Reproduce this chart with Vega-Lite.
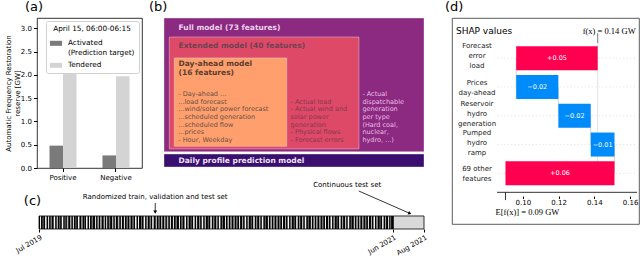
{
"$schema": "https://vega.github.io/schema/vega-lite/v6.json",
"padding": {"left": 4, "top": 0, "right": 0, "bottom": 0},
"background": "white",
"config": {
  "view": {"stroke": null},
  "font": "DejaVu Sans",
  "axis": {"labelFont": "DejaVu Sans", "titleFont": "DejaVu Sans", "labelColor": "#000", "tickColor": "#000", "titleColor": "#000", "labelFontSize": 7, "titleFontSize": 7, "titleFontWeight": "normal", "grid": false},
  "title": {"font": "DejaVu Sans", "fontSize": 13, "fontWeight": "normal", "anchor": "start", "frame": "group", "color": "#000"},
  "text": {"font": "DejaVu Sans"}
},
"datasets": {
  "afrr": [
    {"direction": "Positive", "reserve": "Activated", "gw": 0.48},
    {"direction": "Positive", "reserve": "Tendered", "gw": 2.12},
    {"direction": "Negative", "reserve": "Activated", "gw": 0.27},
    {"direction": "Negative", "reserve": "Tendered", "gw": 1.97}
  ],
  "boxes": [
    {"box": "Full", "x1": 0, "x2": 100, "y1": 0, "y2": 89.7},
    {"box": "Extended", "x1": 2.04, "x2": 75, "y1": 12.75, "y2": 87.9},
    {"box": "Day-ahead", "x1": 3.96, "x2": 47.2, "y1": 26.8, "y2": 86.1},
    {"box": "Daily profile", "x1": 0, "x2": 100, "y1": 91.3, "y2": 100}
  ],
  "boxTitles": [
    {"box": "Full", "text": "Full model (73 features)", "x": 5.6, "y": 6.9},
    {"box": "Extended", "text": "Extended model (40 features)", "x": 5.6, "y": 19.0},
    {"box": "Day-ahead", "text": "Day-ahead model\n(16 features)", "x": 5.6, "y": 30.9},
    {"box": "Daily profile", "text": "Daily profile prediction model", "x": 5.6, "y": 96.2}
  ],
  "boxLists": [
    {"box": "Day-ahead", "text": "- Day-ahead ...\n...load forecast\n...wind/solar power forecast\n...scheduled generation\n...scheduled flow\n...prices\n- Hour, Weekday", "x": 5.5, "y": 51.0},
    {"box": "Extended", "text": "- Actual load\n- Actual wind and\nsolar power\ngeneration\n- Physical flows\n- Forecast errors", "x": 48.7, "y": 56.2},
    {"box": "Full", "text": "- Actual\ndispatchable\ngeneration\nper type\n(Hard coal,\nnuclear,\nhydro, ...)", "x": 76.3, "y": 51.0}
  ],
  "segments": [
    {"part": "randomized", "start": 0, "end": 701},
    {"part": "continuous", "start": 701, "end": 762}
  ],
  "stripes": [
    {"s":2,"e":4,"t":"w"},{"s":7,"e":9,"t":"m"},{"s":12,"e":15,"t":"w"},{"s":18,"e":20,"t":"w"},{"s":23,"e":25,"t":"l"},{"s":29,"e":32,"t":"w"},{"s":35,"e":37,"t":"w"},{"s":40,"e":42,"t":"m"},{"s":45,"e":48,"t":"w"},{"s":51,"e":52,"t":"w"},{"s":55,"e":58,"t":"l"},{"s":62,"e":64,"t":"w"},{"s":67,"e":69,"t":"w"},{"s":72,"e":74,"t":"m"},{"s":77,"e":80,"t":"w"},{"s":84,"e":86,"t":"w"},{"s":89,"e":90,"t":"l"},{"s":93,"e":96,"t":"w"},{"s":99,"e":101,"t":"w"},{"s":104,"e":107,"t":"m"},{"s":111,"e":113,"t":"w"},{"s":116,"e":118,"t":"w"},{"s":121,"e":124,"t":"l"},{"s":128,"e":130,"t":"w"},{"s":133,"e":135,"t":"w"},{"s":138,"e":141,"t":"m"},{"s":145,"e":147,"t":"w"},{"s":150,"e":152,"t":"w"},{"s":156,"e":159,"t":"l"},{"s":162,"e":164,"t":"w"},{"s":168,"e":170,"t":"w"},{"s":173,"e":176,"t":"m"},{"s":179,"e":181,"t":"w"},{"s":185,"e":187,"t":"l"},{"s":190,"e":193,"t":"w"},{"s":196,"e":198,"t":"w"},{"s":202,"e":204,"t":"m"},{"s":207,"e":210,"t":"w"},{"s":213,"e":215,"t":"w"},{"s":219,"e":221,"t":"l"},{"s":224,"e":227,"t":"w"},{"s":231,"e":233,"t":"w"},{"s":236,"e":239,"t":"m"},{"s":242,"e":244,"t":"w"},{"s":248,"e":250,"t":"w"},{"s":253,"e":256,"t":"l"},{"s":259,"e":261,"t":"w"},{"s":265,"e":267,"t":"w"},{"s":270,"e":273,"t":"m"},{"s":277,"e":279,"t":"w"},{"s":282,"e":284,"t":"l"},{"s":288,"e":291,"t":"w"},{"s":294,"e":296,"t":"w"},{"s":300,"e":302,"t":"m"},{"s":305,"e":308,"t":"w"},{"s":311,"e":313,"t":"w"},{"s":317,"e":319,"t":"l"},{"s":322,"e":325,"t":"w"},{"s":328,"e":330,"t":"w"},{"s":334,"e":336,"t":"m"},{"s":339,"e":342,"t":"w"},{"s":345,"e":347,"t":"l"},{"s":351,"e":353,"t":"w"},{"s":356,"e":359,"t":"w"},{"s":362,"e":364,"t":"m"},{"s":368,"e":370,"t":"w"},{"s":373,"e":376,"t":"l"},{"s":379,"e":381,"t":"w"},{"s":385,"e":387,"t":"w"},{"s":390,"e":393,"t":"m"},{"s":396,"e":398,"t":"w"},{"s":402,"e":404,"t":"l"},{"s":407,"e":410,"t":"w"},{"s":413,"e":415,"t":"w"},{"s":419,"e":421,"t":"m"},{"s":424,"e":427,"t":"w"},{"s":430,"e":432,"t":"l"},{"s":436,"e":438,"t":"w"},{"s":441,"e":444,"t":"w"},{"s":447,"e":449,"t":"m"},{"s":453,"e":455,"t":"w"},{"s":458,"e":461,"t":"l"},{"s":464,"e":466,"t":"w"},{"s":470,"e":472,"t":"w"},{"s":475,"e":478,"t":"m"},{"s":481,"e":483,"t":"w"},{"s":487,"e":489,"t":"l"},{"s":492,"e":495,"t":"w"},{"s":498,"e":500,"t":"w"},{"s":504,"e":506,"t":"m"},{"s":509,"e":512,"t":"w"},{"s":515,"e":517,"t":"l"},{"s":521,"e":523,"t":"w"},{"s":526,"e":529,"t":"w"},{"s":532,"e":534,"t":"m"},{"s":538,"e":540,"t":"w"},{"s":543,"e":546,"t":"l"},{"s":549,"e":551,"t":"w"},{"s":555,"e":557,"t":"w"},{"s":560,"e":563,"t":"m"},{"s":566,"e":568,"t":"w"},{"s":572,"e":574,"t":"l"},{"s":577,"e":580,"t":"w"},{"s":583,"e":585,"t":"w"},{"s":589,"e":591,"t":"m"},{"s":594,"e":597,"t":"w"},{"s":600,"e":602,"t":"l"},{"s":606,"e":608,"t":"w"},{"s":611,"e":614,"t":"w"},{"s":617,"e":619,"t":"m"},{"s":623,"e":625,"t":"w"},{"s":628,"e":631,"t":"l"},{"s":634,"e":636,"t":"w"},{"s":640,"e":642,"t":"w"},{"s":645,"e":648,"t":"m"},{"s":651,"e":653,"t":"w"},{"s":657,"e":659,"t":"l"},{"s":662,"e":665,"t":"w"},{"s":668,"e":670,"t":"w"},{"s":674,"e":676,"t":"m"},{"s":679,"e":682,"t":"w"},{"s":685,"e":687,"t":"l"},{"s":691,"e":693,"t":"w"},{"s":695,"e":697,"t":"m"}
  ],
  "callouts": [
    {"name": "panel", "text": "(c)", "day": -13, "level": 2.15},
    {"name": "randomized", "text": "Randomized train, validation and test set", "day": 230, "level": 2.46},
    {"name": "continuous", "text": "Continuous test set", "day": 610, "level": 3.38}
  ],
  "arrows": [
    {"name": "randomized", "day1": 230, "lev1": 2.0, "day2": 230, "lev2": 1.3},
    {"name": "continuous", "day1": 633, "lev1": 2.92, "day2": 734, "lev2": 1.2}
  ],
  "shap": [
    {"feature": "Forecast error load", "label": "Forecast\nerror\nload", "lines": 3, "row": 1, "start": 0.0963, "end": 0.1419, "text": "+0.05", "sign": "positive"},
    {"feature": "Prices day-ahead", "label": "Prices\nday-ahead", "lines": 2, "row": 2, "start": 0.1199, "end": 0.0963, "text": "\u22120.02", "sign": "negative"},
    {"feature": "Reservoir hydro generation", "label": "Reservoir\nhydro\ngeneration", "lines": 3, "row": 3, "start": 0.1380, "end": 0.1199, "text": "\u22120.02", "sign": "negative"},
    {"feature": "Pumped hydro ramp", "label": "Pumped\nhydro\nramp", "lines": 3, "row": 4, "start": 0.1513, "end": 0.1380, "text": "\u22120.01", "sign": "negative"},
    {"feature": "69 other features", "label": "69 other\nfeatures", "lines": 2, "row": 5, "start": 0.0903, "end": 0.1513, "text": "+0.06", "sign": "positive"}
  ],
  "connectors": [
    {"x": 0.0963, "r1": 1, "r2": 2},
    {"x": 0.1199, "r1": 2, "r2": 3},
    {"x": 0.1380, "r1": 3, "r2": 4},
    {"x": 0.1513, "r1": 4, "r2": 5}
  ]
},
"hconcat": [
  {
    "vconcat": [
      {
        "hconcat": [
          {
            "title": {"text": "(a)", "dx": -12, "offset": 4},
            "width": 105, "height": 150,
            "view": {"stroke": "#000", "strokeWidth": 0.8},
            "data": {"name": "afrr"},
            "mark": {"type": "bar"},
            "encoding": {
              "x": {"field": "direction", "type": "nominal", "sort": ["Positive", "Negative"],
                    "scale": {"paddingInner": 0.49, "paddingOuter": 0.236},
                    "axis": {"title": null, "labelAngle": 0, "domain": false, "tickSize": 3.5, "labelPadding": 2}},
              "xOffset": {"field": "reserve", "type": "nominal", "sort": ["Activated", "Tendered"]},
              "y": {"field": "gw", "type": "quantitative", "scale": {"domain": [0, 3.22], "nice": false},
                    "axis": {"title": ["Automatic Frequency Restoration", "reserve [GW]"], "values": [0, 0.5, 1, 1.5, 2, 2.5, 3], "format": ".1f", "domain": false, "tickSize": 3.5, "labelPadding": 2, "titlePadding": 0, "titleLineHeight": 8.5}},
              "color": {"field": "reserve", "type": "nominal",
                        "scale": {"domain": ["Activated", "Tendered"], "range": ["#7a7a7a", "#d4d4d4"]},
                        "legend": {"orient": "top-right", "offset": 3, "title": "April 15, 06:00-06:15", "titleFontSize": 7.3, "titleFontWeight": "normal", "titleAnchor": "middle", "titleFont": "DejaVu Sans", "labelFont": "DejaVu Sans", "labelFontSize": 7.3, "symbolType": "M-1,-0.42H1V0.42H-1Z", "symbolSize": 144, "symbolStrokeWidth": 0, "padding": 4, "fillColor": "#ffffff", "strokeColor": "#d0d0d0", "cornerRadius": 2, "rowPadding": 3, "labelOffset": 6, "labelExpr": "datum.label == 'Activated' ? ['Activated', '(Prediction target)'] : datum.label"}}
            }
          },
          {
            "title": {"text": "(b)", "dx": -15, "offset": 4},
            "width": 260, "height": 149,
            "layer": [
              {
                "data": {"name": "boxes"},
                "mark": {"type": "rect", "stroke": "#ffffff", "strokeOpacity": 0.35, "strokeWidth": 1},
                "encoding": {
                  "x": {"field": "x1", "type": "quantitative", "scale": {"domain": [0, 100], "nice": false, "zero": false}, "axis": null},
                  "x2": {"field": "x2"},
                  "y": {"field": "y1", "type": "quantitative", "scale": {"domain": [0, 100], "reverse": true, "nice": false, "zero": false}, "axis": null},
                  "y2": {"field": "y2"},
                  "fill": {"field": "box", "type": "nominal", "scale": {"domain": ["Full", "Extended", "Day-ahead", "Daily profile"], "range": ["#8c2981", "#de4968", "#fe9f6d", "#3b0f70"]}, "legend": null}
                }
              },
              {
                "data": {"name": "boxTitles"},
                "mark": {"type": "text", "align": "left", "baseline": "middle", "fontWeight": "bold", "fontSize": 7.5, "lineBreak": "\n", "lineHeight": 8.5},
                "encoding": {
                  "x": {"field": "x", "type": "quantitative", "axis": null},
                  "y": {"field": "y", "type": "quantitative", "axis": null},
                  "text": {"field": "text"},
                  "color": {"field": "box", "type": "nominal", "scale": {"domain": ["Full", "Extended", "Day-ahead", "Daily profile"], "range": ["#ecd3ea", "#6e4251", "#5a3d2e", "#ece4f4"]}, "legend": null}
                }
              },
              {
                "data": {"name": "boxLists"},
                "mark": {"type": "text", "align": "left", "baseline": "middle", "fontSize": 6.5, "lineBreak": "\n", "lineHeight": 7.67},
                "encoding": {
                  "x": {"field": "x", "type": "quantitative", "axis": null},
                  "y": {"field": "y", "type": "quantitative", "axis": null},
                  "text": {"field": "text"},
                  "fill": {"field": "box", "type": "nominal", "scale": {"domain": ["Full", "Extended", "Day-ahead"], "range": ["#e8bee2", "#87384f", "#6b5045"]}, "legend": null}
                }
              }
            ],
            "resolve": {"scale": {"color": "independent", "fill": "independent"}}
          }
        ],
        "spacing": 22,
        "bounds": "flush",
        "resolve": {"scale": {"color": "independent", "fill": "independent"}, "legend": {"color": "independent", "fill": "independent"}}
      },
      {
        "width": 387, "height": 48,
        "layer": [
          {
            "data": {"name": "segments"},
            "mark": {"type": "rect"},
            "encoding": {
              "x": {"field": "start", "type": "quantitative", "scale": {"domain": [-4, 762], "nice": false, "zero": false},
                    "axis": {"title": null, "values": [0, 701, 762], "labelExpr": "datum.value == 0 ? 'Jul 2019' : (datum.value == 701 ? 'Jun 2021' : 'Aug 2021')", "labelAngle": -30, "labelAlign": "right", "labelBaseline": "top", "domain": false, "tickSize": 3, "labelPadding": 1, "labelOverlap": false, "labelFlush": false, "labelBound": false}},
              "x2": {"field": "end"},
              "y": {"datum": 0, "type": "quantitative", "scale": {"domain": [0, 3.69], "nice": false, "zero": false}, "axis": null},
              "y2": {"datum": 1},
              "fill": {"field": "part", "type": "nominal", "scale": {"domain": ["randomized", "continuous"], "range": ["#000000", "#d9d9d9"]}, "legend": null}
            }
          },
          {
            "data": {"name": "stripes"},
            "mark": {"type": "rect"},
            "encoding": {
              "x": {"field": "s", "type": "quantitative"},
              "x2": {"field": "e"},
              "y": {"datum": 0, "type": "quantitative", "axis": null},
              "y2": {"datum": 1},
              "color": {"field": "t", "type": "nominal", "scale": {"domain": ["w", "l", "m"], "range": ["#f4f4f4", "#b8b8b8", "#777777"]}, "legend": null}
            }
          },
          {
            "data": {"name": "segments"},
            "mark": {"type": "rect", "filled": false, "stroke": "#000", "strokeWidth": 0.8},
            "encoding": {
              "x": {"field": "start", "type": "quantitative"},
              "x2": {"field": "end"},
              "y": {"datum": 0, "type": "quantitative", "axis": null},
              "y2": {"datum": 1}
            }
          },
          {
            "data": {"name": "callouts"},
            "transform": [{"filter": "datum.name != 'panel'"}],
            "mark": {"type": "text", "fontSize": 7, "align": "center", "baseline": "middle", "color": "#000"},
            "encoding": {
              "x": {"field": "day", "type": "quantitative"},
              "y": {"field": "level", "type": "quantitative", "axis": null},
              "text": {"field": "text"}
            }
          },
          {
            "data": {"name": "callouts"},
            "transform": [{"filter": "datum.name == 'panel'"}],
            "mark": {"type": "text", "fontSize": 13, "align": "center", "baseline": "middle", "color": "#000"},
            "encoding": {
              "x": {"field": "day", "type": "quantitative"},
              "y": {"field": "level", "type": "quantitative", "axis": null},
              "text": {"field": "text"}
            }
          },
          {
            "data": {"name": "arrows"},
            "mark": {"type": "rule", "color": "#000", "strokeWidth": 0.8},
            "encoding": {
              "x": {"field": "day1", "type": "quantitative"},
              "x2": {"field": "day2"},
              "y": {"field": "lev1", "type": "quantitative", "axis": null},
              "y2": {"field": "lev2"}
            }
          },
          {
            "data": {"name": "arrows"},
            "transform": [{"filter": "datum.name == 'randomized'"}],
            "mark": {"type": "point", "shape": "triangle-right", "angle": 90, "filled": true, "color": "#000", "size": 14, "opacity": 1},
            "encoding": {
              "x": {"field": "day2", "type": "quantitative"},
              "y": {"field": "lev2", "type": "quantitative", "axis": null}
            }
          },
          {
            "data": {"name": "arrows"},
            "transform": [{"filter": "datum.name == 'continuous'"}],
            "mark": {"type": "point", "shape": "triangle-right", "angle": 23.5, "filled": true, "color": "#000", "size": 14, "opacity": 1},
            "encoding": {
              "x": {"field": "day2", "type": "quantitative"},
              "y": {"field": "lev2", "type": "quantitative", "axis": null}
            }
          }
        ],
        "resolve": {"scale": {"color": "independent", "fill": "independent"}}
      }
    ],
    "spacing": -7,
    "resolve": {"scale": {"color": "independent", "fill": "independent"}, "legend": {"color": "independent", "fill": "independent"}}
  },
  {
    "title": {"text": "(d)", "dx": -7, "offset": 4},
    "width": 187, "height": 206,
    "view": {"stroke": "#333", "strokeWidth": 0.8},
    "layer": [
      {
        "data": {"name": "shap"},
        "mark": {"type": "rule", "color": "#e3e3e3", "strokeWidth": 0.8, "strokeDash": [1.5, 2]},
        "encoding": {
          "x": {"datum": 0.0856, "type": "quantitative", "scale": {"domain": [0.0604, 0.165], "nice": false, "zero": false},
                "axis": {"title": null, "orient": "bottom", "offset": -28, "values": [0.10, 0.12, 0.14, 0.16], "format": ".2f", "domain": false, "tickSize": 2.5, "labelPadding": -0.5, "labelFlush": false, "labelOverlap": false}},
          "x2": {"datum": 0.1639},
          "y": {"field": "row", "type": "quantitative", "scale": {"domain": [-0.223, 6.587], "reverse": true, "nice": false, "zero": false}, "axis": null}
        }
      },
      {
        "data": {"name": "connectors"},
        "mark": {"type": "rule", "color": "#cccccc", "strokeWidth": 0.8},
        "encoding": {
          "x": {"field": "x", "type": "quantitative"},
          "y": {"field": "r1", "type": "quantitative"},
          "y2": {"field": "r2"}
        }
      },
      {
        "data": {"values": [{}]},
        "mark": {"type": "rule", "color": "#d9d9d9", "strokeWidth": 0.8},
        "encoding": {
          "x": {"datum": 0.1419, "type": "quantitative"},
          "y": {"datum": 0.47, "type": "quantitative"},
          "y2": {"datum": 4.6}
        }
      },
      {
        "data": {"name": "shap"},
        "mark": {"type": "bar", "orient": "horizontal", "height": 24},
        "encoding": {
          "x": {"field": "start", "type": "quantitative"},
          "x2": {"field": "end"},
          "y": {"field": "row", "type": "quantitative"},
          "color": {"field": "sign", "type": "nominal", "scale": {"domain": ["positive", "negative"], "range": ["#ff0051", "#008bfb"]}, "legend": null}
        }
      },
      {
        "data": {"name": "shap"},
        "transform": [{"calculate": "(datum.start + datum.end) / 2", "as": "mid"}],
        "mark": {"type": "text", "color": "#ffffff", "fontSize": 6.5, "align": "center", "baseline": "middle"},
        "encoding": {
          "x": {"field": "mid", "type": "quantitative"},
          "y": {"field": "row", "type": "quantitative"},
          "text": {"field": "text"}
        }
      },
      {
        "data": {"name": "shap"},
        "transform": [{"filter": "datum.lines == 3"}],
        "mark": {"type": "text", "color": "#222", "fontSize": 7, "align": "center", "baseline": "middle", "lineBreak": "\n", "lineHeight": 10, "dy": -12},
        "encoding": {
          "x": {"datum": 0.0744, "type": "quantitative"},
          "y": {"field": "row", "type": "quantitative"},
          "text": {"field": "label"}
        }
      },
      {
        "data": {"name": "shap"},
        "transform": [{"filter": "datum.lines == 2"}],
        "mark": {"type": "text", "color": "#222", "fontSize": 7, "align": "center", "baseline": "middle", "lineBreak": "\n", "lineHeight": 10, "dy": -4},
        "encoding": {
          "x": {"datum": 0.0744, "type": "quantitative"},
          "y": {"field": "row", "type": "quantitative"},
          "text": {"field": "label"}
        }
      },
      {
        "data": {"values": [{"t": "SHAP values"}]},
        "mark": {"type": "text", "color": "#000", "fontSize": 9, "align": "left", "baseline": "middle"},
        "encoding": {
          "x": {"datum": 0.0626, "type": "quantitative"},
          "y": {"datum": 0.041, "type": "quantitative"},
          "text": {"field": "t"}
        }
      },
      {
        "data": {"values": [{"t": "f(x) = 0.14 GW"}]},
        "mark": {"type": "text", "color": "#000", "font": "Liberation Serif", "fontSize": 8.5, "align": "left", "baseline": "middle", "dx": -15},
        "encoding": {
          "x": {"datum": 0.1419, "type": "quantitative"},
          "y": {"datum": 0.041, "type": "quantitative"},
          "text": {"field": "t"}
        }
      },
      {
        "data": {"values": [{}]},
        "mark": {"type": "rule", "color": "#555", "strokeWidth": 0.8},
        "encoding": {
          "x": {"datum": 0.1419, "type": "quantitative"},
          "y": {"datum": 0.13, "type": "quantitative"},
          "y2": {"datum": 0.47}
        }
      },
      {
        "data": {"values": [{}]},
        "mark": {"type": "rule", "color": "#000", "strokeWidth": 0.8},
        "encoding": {
          "x": {"datum": 0.0856, "type": "quantitative"},
          "x2": {"datum": 0.1639},
          "y": {"datum": 5.66, "type": "quantitative"}
        }
      },
      {
        "data": {"values": [{}]},
        "mark": {"type": "rule", "color": "#000", "strokeWidth": 0.8},
        "encoding": {
          "x": {"datum": 0.0903, "type": "quantitative"},
          "y": {"datum": 5.66, "type": "quantitative"},
          "y2": {"datum": 5.93}
        }
      },
      {
        "data": {"values": [{"t": "E[f(x)] = 0.09 GW"}]},
        "mark": {"type": "text", "color": "#000", "font": "Liberation Serif", "fontSize": 8.5, "align": "center", "baseline": "middle", "dx": 22},
        "encoding": {
          "x": {"datum": 0.0903, "type": "quantitative"},
          "y": {"datum": 6.35, "type": "quantitative"},
          "text": {"field": "t"}
        }
      }
    ]
  }
],
"spacing": 16,
"resolve": {"scale": {"color": "independent", "fill": "independent"}, "legend": {"color": "independent", "fill": "independent"}}
}
